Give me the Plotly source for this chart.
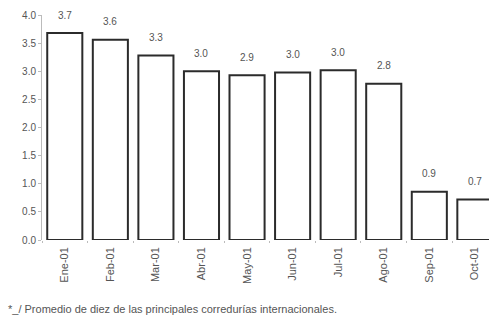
import plotly.graph_objects as go

months = ["Ene-01", "Feb-01", "Mar-01", "Abr-01", "May-01", "Jun-01", "Jul-01", "Ago-01", "Sep-01", "Oct-01"]
values = [3.68, 3.56, 3.28, 3.00, 2.93, 2.98, 3.02, 2.78, 0.86, 0.72]
y_ticks = [0.0, 0.5, 1.0, 1.5, 2.0, 2.5, 3.0, 3.5, 4.0]
footnote = "*_/ Promedio de diez de las principales corredurías internacionales."

fig = go.Figure(go.Bar(
    x=months, y=values, width=0.77,
    marker=dict(color="white", line=dict(color="#2b2b2b", width=2)),
    hoverinfo="skip",
))

annots = [dict(x=m, y=v, text=f"{v:.1f}", showarrow=False, xanchor="center",
               yanchor="middle", yshift=18, font=dict(size=10, color="#555"))
          for m, v in zip(months, values)]
annots.append(dict(text=footnote, xref="paper", yref="paper", x=-0.08, y=-0.305,
                   xanchor="left", yanchor="middle", showarrow=False,
                   font=dict(size=11, color="#555")))

fig.update_layout(
    width=489, height=319,
    margin=dict(l=42, r=0, t=15, b=79),
    paper_bgcolor="white", plot_bgcolor="white",
    showlegend=False,
    font=dict(family="Liberation Sans", size=10, color="#444"),
    annotations=annots,
)
fig.update_xaxes(range=[-0.5, 9.31], tickangle=-90, showline=False, showgrid=False,
                 automargin=False, ticklabelstandoff=4,
                 tickson="boundaries", ticks="outside", ticklen=2, tickcolor="#bbb",
                 tickfont=dict(size=11, color="#555"))
fig.update_yaxes(range=[0, 4], tickvals=y_ticks, ticktext=[f"{v:.1f}" for v in y_ticks],
                 automargin=False,
                 showgrid=False, zeroline=False, showline=True, linecolor="#bbb",
                 linewidth=1, ticks="outside", ticklen=3, tickcolor="#bbb",
                 tickfont=dict(size=10, color="#555"))

fig.write_html("out.html", config={"displayModeBar": False},
               post_script="document.body.style.margin='0';document.body.style.overflow='hidden';")
